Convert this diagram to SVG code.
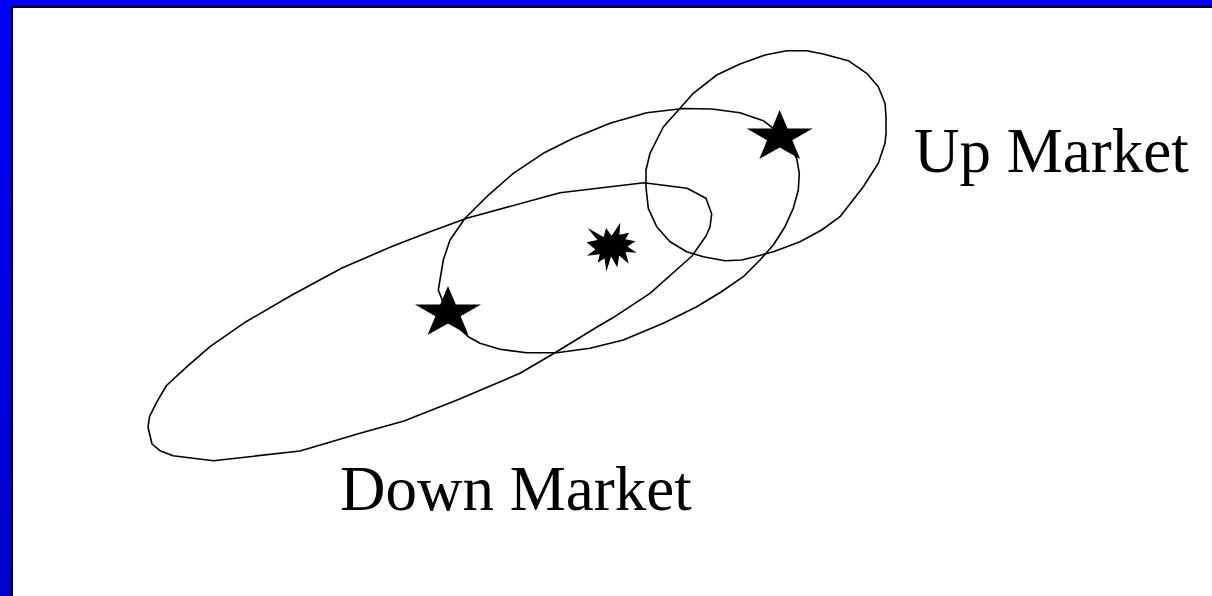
<svg xmlns="http://www.w3.org/2000/svg" width="1212" height="596" viewBox="0 0 1212 596">
<defs>
<linearGradient id="bg" x1="0" y1="0" x2="0" y2="1">
<stop offset="0" stop-color="#0000ff"/>
<stop offset="1" stop-color="#0000cc"/>
</linearGradient>
<polygon id="star" points="0.5,0 0.618,0.38 1,0.38 0.691,0.617 0.81,1 0.5,0.763 0.19,1 0.309,0.617 0,0.38 0.382,0.38"/>
</defs>
<style>
.ring{fill:none;stroke:#000;stroke-width:1.6;stroke-linejoin:round}
.solid{fill:#000;stroke:none}
.lbl{font-family:"Liberation Serif","Times New Roman",serif;font-size:63px;fill:#000}
</style>
<rect x="0" y="0" width="1212" height="596" fill="url(#bg)"/>
<rect x="11" y="6" width="1201" height="590" fill="#000"/>
<rect x="13" y="8" width="1199" height="588" fill="#fff"/>
<g id="connectors">
<polygon id="down-ellipse" class="ring" points="644,182.7 687,188.3 706,198.3 711.7,214 710,227 706,236 692,256 683,264 650,293.3 612,318.3 597,327 555,352.7 520,373.3 459,399.3 404,421 360,433.3 300,451 213.5,460.7 173,455.7 160,450.7 152,444 148,427 149.5,416.7 157,401.7 166.5,385.5 187,366.7 210,346.7 246,321.7 292,295 342,268 393,246 430,231.7 466.7,218.3 560,192.7"/>
<polygon id="mid-ellipse" class="ring" points="646.7,112.7 683.3,108.5 711.7,109 740,112.7 763.3,120.7 778,132 790,146.7 796.7,158.3 799.3,173.3 798.3,190 793.3,208.3 785,226.7 773.3,245 760,260 743.3,276.7 721,292 696.7,306.7 663.3,323.3 623.3,340 590,348.3 556.7,352.7 526.7,352.7 500,349.3 480,343.3 468.3,336.7 450,320 438.3,290 443.3,260 450,240 465,218.3 486.7,196.7 513.3,173.3 543.3,153.3 573.3,138.3 610,123.3"/>
<polygon id="up-ellipse" class="ring" points="786.7,50.7 806.7,50.7 823.3,54 848.3,60.7 866.7,73.3 878.3,86.7 885,103.3 886,116.7 886,133.3 885,143.3 878.3,163.3 863.3,186.7 840,216.7 821.7,230 800,241.7 773.3,251.7 755,256.7 741.7,260 725,260.7 703.3,256.7 686.7,251.7 670,241.7 656.7,226.7 648.3,208.3 646,187 646,170 650,153.3 663.3,127 680,108.3 693.3,93.3 716.7,75 740,64 765,55"/>
</g>
<g id="star-down">
<use href="#star" class="solid" transform="translate(415,286) scale(66,49)"/>
</g>
<g id="star-up">
<use href="#star" class="solid" transform="translate(746.7,110) scale(66,49)"/>
</g>
<g id="burst">
<polygon class="solid" transform="translate(586.7,222.7) scale(0.0023148,0.0022685)" points="10800,5800 14522,0 14155,5325 18380,4457 16702,7315 21097,8137 17607,10475 21600,13290 16837,12942 18145,18095 14020,14457 13247,19737 10532,14935 8485,21600 7715,15627 4762,17617 5667,13937 135,14587 3722,11775 0,8615 4627,7617 370,2295 7312,6320 8352,2295"/>
</g>
<g id="label-up">
<text class="lbl" x="914" y="172">Up Market</text>
</g>
<g id="label-down">
<text class="lbl" x="340" y="510">Down Market</text>
</g>
</svg>
